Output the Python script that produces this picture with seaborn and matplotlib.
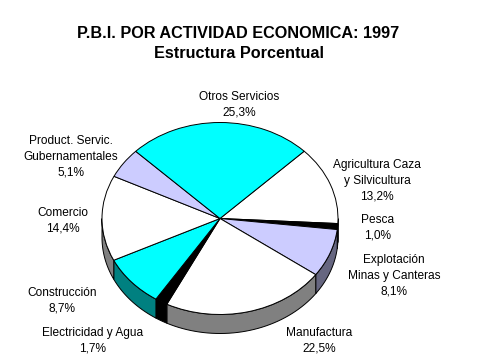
import matplotlib
matplotlib.use("Agg")
import matplotlib.pyplot as plt
from matplotlib.colors import to_rgb
import numpy as np
import seaborn as sns

sectores = [
    "Agricultura Caza\ny Silvicultura",
    "Pesca",
    "Explotación\nMinas y Canteras",
    "Manufactura",
    "Electricidad y Agua",
    "Construcción",
    "Comercio",
    "Product. Servic.\nGubernamentales",
    "Otros Servicios",
]
valores = [13.2, 1.0, 8.1, 22.5, 1.7, 8.7, 14.4, 5.1, 25.3]
colores = ["#FFFFFF", "#000000", "#CCCCFF", "#FFFFFF", "#000000", "#00FFFF", "#FFFFFF", "#CCCCFF", "#00FFFF"]
etiquetas = [s + "\n" + f"{v:.1f}".replace(".", ",") + "%" for s, v in zip(sectores, valores)]

# label centres, in image pixels
pos_x = [377, 378, 394, 319, 93, 62, 63, 71, 239.5]
pos_y = [181, 228, 276, 340.5, 340.5, 300.5, 220.5, 157, 105]

W, H = 479, 359
CX, CY, RX, RY = 220, 218.5, 118, 96
DEPTH = 19 / RY
START = 44.5

sns.set_theme(style="white")
plt.rcParams["font.family"] = ["Liberation Sans", "DejaVu Sans"]

fig = plt.figure(figsize=(W / 100, H / 100), dpi=100, facecolor="white")
ax = fig.add_axes([0, 0, 1, 1])

ax.pie(
    valores,
    colors=colores,
    startangle=START,
    counterclock=False,
    radius=1,
    wedgeprops={"edgecolor": "black", "linewidth": 0.7, "zorder": 3},
)
ax.set_aspect("auto")
ax.set_xlim(-CX / RX, (W - CX) / RX)
ax.set_ylim(-(H - CY) / RY, CY / RY)
ax.axis("off")

# side wall of the 3D pie, only the front half shows
fin = START - np.cumsum(valores) * 3.6
ini = np.r_[START, fin[:-1]]
for a1, a0, col in zip(ini, fin, colores):
    # bring both angles into the lower half (-180..0)
    while a0 < -360:
        a0 += 360
        a1 += 360
    lo, hi = max(a0, -180), min(a1, 0)
    if hi <= lo:
        continue
    t = np.radians(np.linspace(lo, hi, 40))
    x = np.r_[np.cos(t), np.cos(t)[::-1]]
    y = np.r_[np.sin(t), np.sin(t)[::-1] - DEPTH]
    lado = tuple(c * 0.5 for c in to_rgb(col))
    ax.fill(x, y, facecolor=lado, edgecolor="black", linewidth=0.7, zorder=2, clip_on=False)

for txt, px, py in zip(etiquetas, pos_x, pos_y):
    fig.text(px / W, 1 - py / H, txt, ha="center", va="center", fontsize=8.6, linespacing=1.4, color="black")

fig.text(238.5 / W, 1 - 34 / H, "P.B.I. POR ACTIVIDAD ECONOMICA: 1997", ha="center", va="center",
         fontsize=11.7, fontweight="bold", color="black")
fig.text(239.5 / W, 1 - 53.5 / H, "Estructura Porcentual", ha="center", va="center",
         fontsize=11.7, fontweight="bold", color="black")

fig.savefig("out.png", dpi=100)
plt.close(fig)
